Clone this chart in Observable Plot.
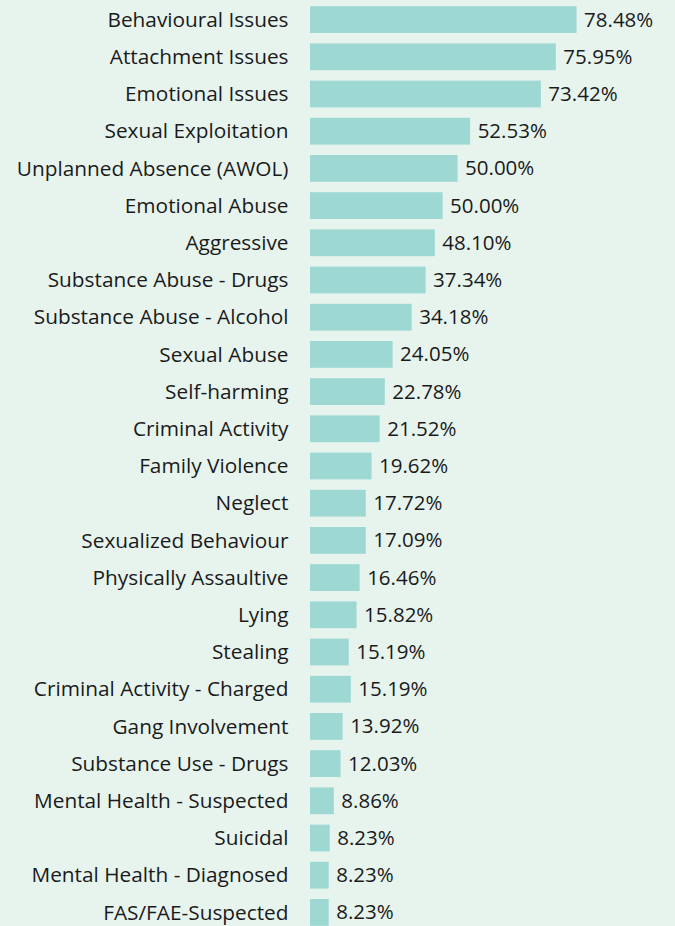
<!DOCTYPE html>
<html><head><meta charset="utf-8">
<script src="https://cdn.jsdelivr.net/npm/d3@7"></script>
<script src="https://cdn.jsdelivr.net/npm/@observablehq/plot@0.6"></script>
<style>html,body{margin:0;padding:0;background:#e7f4ee;overflow:hidden}</style>
</head><body><div id="chart"></div>
<script>
const categories = [
  "Behavioural Issues","Attachment Issues","Emotional Issues","Sexual Exploitation",
  "Unplanned Absence (AWOL)","Emotional Abuse","Aggressive","Substance Abuse - Drugs",
  "Substance Abuse - Alcohol","Sexual Abuse","Self-harming","Criminal Activity",
  "Family Violence","Neglect","Sexualized Behaviour","Physically Assaultive","Lying",
  "Stealing","Criminal Activity - Charged","Gang Involvement","Substance Use - Drugs",
  "Mental Health - Suspected","Suicidal","Mental Health - Diagnosed","FAS/FAE-Suspected"
];
// bar lengths as drawn in the picture (same 0-100 units as the labels' scale)
const barValues = [78.4,72.3,67.9,47.1,43.4,39.0,36.7,34.0,29.9,24.3,22.0,20.5,18.1,16.4,16.4,14.6,13.7,11.4,12.0,9.6,9.0,7.0,5.8,5.5,5.5];
const valueLabels = ["78.48%","75.95%","73.42%","52.53%","50.00%","50.00%","48.10%","37.34%","34.18%","24.05%","22.78%","21.52%","19.62%","17.72%","17.09%","16.46%","15.82%","15.19%","15.19%","13.92%","12.03%","8.86%","8.23%","8.23%","8.23%"];

const data = categories.map((c, i) => ({category: c, bar: barValues[i], label: valueLabels[i]}));

const chart = Plot.plot({
  width: 675, height: 931,
  marginLeft: 310, marginRight: 25, marginTop: 1, marginBottom: 0,
  style: {background: "#e7f4ee", fontFamily: "'Open Sans', sans-serif", color: "#1a1a1a"},
  x: {domain: [0, 100], axis: null},
  y: {domain: categories, paddingInner: 0.28, paddingOuter: 0.14, round: false, axis: null},
  marks: [
    Plot.barX(data, {x: "bar", y: "category", fill: "#9ed8d3"}),
    Plot.text(data, {x: "bar", y: "category", text: "label", textAnchor: "start", dx: 7, fontSize: 20.5, fill: "#1a1a1a"}),
    Plot.axisY({tickSize: 0, tickPadding: 22, fontSize: 20.8, label: null, fill: "#1a1a1a"})
  ]
});
document.getElementById("chart").append(chart);
</script>
</body></html>
